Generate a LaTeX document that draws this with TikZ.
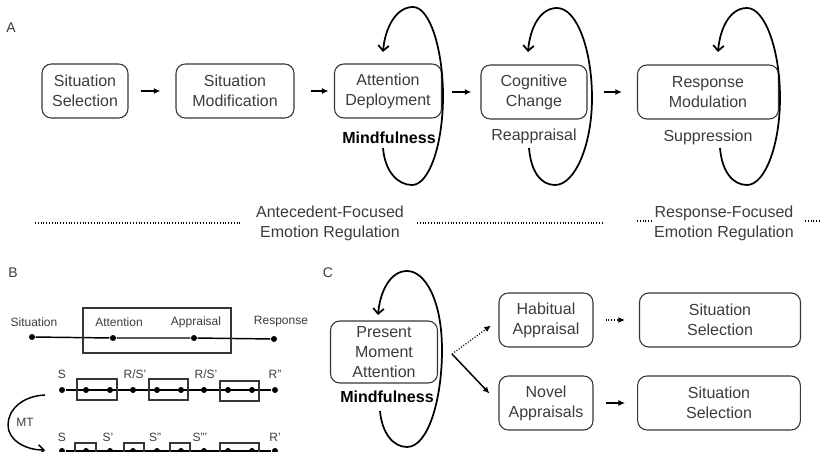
\documentclass[tikz,border=0pt]{standalone}
\usepackage{fontspec}
\setmainfont{Liberation Sans}
\usetikzlibrary{arrows.meta}
\definecolor{ink}{HTML}{3C3C3C}
\definecolor{edge}{HTML}{363636}
\tikzset{px/.style={x=.75pt,y=-.75pt,line width=.8pt,font=\fontsize{12}{15}\selectfont,text=ink},
  stage/.style={draw=edge,line width=.8pt,rounded corners=7pt,align=center,minimum height=40.5pt,inner sep=0pt},
  flow/.style={-{Latex[length=5pt,width=4.5pt]},line width=1.1pt},
  reloop/.style={-{Straight Barb[length=4pt,width=8pt]},line width=1.3pt},
  strong/.style={font=\fontsize{12}{15}\selectfont\bfseries,text=black},
  small/.style={font=\fontsize{9}{11}\selectfont},
  tag/.style={font=\fontsize{10.5}{12}\selectfont},
  dot/.style={circle,fill=black,inner sep=0pt,minimum size=4.5pt},
  bline/.style={line width=1.1pt},bbox/.style={draw=edge,line width=.8pt},
  dotline/.style={line width=.9pt,dash pattern=on .8pt off 1.3pt}}
\begin{document}
\begin{tikzpicture}[px]
  \useasboundingbox (0,0) rectangle (821,452);
  \node[tag] at (11,28) {A};
  \node[stage,minimum width=64.5pt] (sel) at (85,91) {Situation\\Selection};
  \node[stage,minimum width=88.5pt] (mod) at (235,91) {Situation\\Modification};
  \node[stage,minimum width=80.25pt] (dep) at (388,91) {Attention\\Deployment};
  \node[stage,minimum width=79.5pt] (cog) at (534,92) {Cognitive\\Change};
  \node[stage,minimum width=105.75pt] (rmod) at (708,92) {Response\\Modulation};
  \node[strong] (mind) at (389,138) {Mindfulness};
  \node (reap) at (534,136) {Reappraisal};\node (supp) at (708,137) {Suppression};
  \draw[flow,shorten <=9pt,shorten >=11.25pt] (sel) -- (mod);
  \draw[flow,shorten <=12pt,shorten >=4pt] (mod) -- (dep);
  \draw[flow,shorten <=7.5pt,shorten >=6.75pt] (dep.east|-cog) -- (cog);
  \draw[flow,shorten <=12pt,shorten >=11.25pt] (cog) -- (rmod);
  \draw[reloop] (383,148) .. controls (385,172) and (398,185) .. (412,185) .. controls (429,185) and (443,145) .. (443,96)
    .. controls (443,50) and (430,7) .. (413,7) .. controls (396,7) and (385,28) .. (383,52);
  \draw[reloop] (529,148) .. controls (531,172) and (541,185) .. (555,185) .. controls (575,185) and (592,145) .. (592,98)
    .. controls (592,50) and (577,8) .. (557,8) .. controls (540,8) and (530,28) .. (528,52);
  \draw[reloop] (720,148) .. controls (722,172) and (733,185) .. (747,185) .. controls (765,185) and (780,145) .. (780,98)
    .. controls (780,50) and (765,8) .. (747,8) .. controls (730,8) and (720,28) .. (718,52);
  \node[align=center] (ante) at (330,223) {Antecedent-Focused\\Emotion Regulation};
  \node[align=center] (resp) at (724,223) {Response-Focused\\Emotion Regulation};
  \draw[dotline] (35,223) -- (240,223);\draw[dotline] (417,223) -- (602,223);
  \draw[dotline] (637,221) -- (653,221);\draw[dotline] (805,221) -- (820,221);
  \node[tag] at (13,273) {B};
  \node[dot] (bs) at (32,337) {};\node[dot] (bat) at (113,338) {};\node[dot] (bap) at (194,338) {};\node[dot] (br) at (274,339) {};
  \draw[bline] (bs) -- (bat) -- (bap) -- (br);\draw[bbox] (83,308) rectangle (231,353);
  \node[small] at (34,322) {Situation};\node[small] at (119,322) {Attention};
  \node[small] at (196,322) {Appraisal};\node[small] at (281,322) {Response};
  \node[dot] (u1) at (62,390) {};\node[dot] (u2) at (86,390) {};\node[dot] (u3) at (110,390) {};\node[dot] (u4) at (133,390) {};
  \node[dot] (u5) at (157,390) {};\node[dot] (u6) at (181,390) {};\node[dot] (u7) at (204,390) {};\node[dot] (u8) at (228,390) {};
  \node[dot] (u9) at (252,390) {};\node[dot] (u10) at (275,390) {};
  \draw[bline] (u1) -- (u10);
  \draw[bbox] (77,379) rectangle (117,400);\draw[bbox] (149,379) rectangle (188,400);\draw[bbox] (220,381) rectangle (259,401);
  \node[small] at (62,374) {S};\node[small] at (135,374) {R/S'};\node[small] at (206,374) {R/S'};\node[small] at (275,374) {R''};
  \node[dot] (l1) at (62,451) {};\node[dot] (l2) at (86,451) {};\node[dot] (l3) at (110,451) {};\node[dot] (l4) at (133,451) {};
  \node[dot] (l5) at (157,451) {};\node[dot] (l6) at (181,451) {};\node[dot] (l7) at (204,451) {};\node[dot] (l8) at (228,451) {};
  \node[dot] (l9) at (252,451) {};\node[dot] (l10) at (275,451) {};
  \draw[bline] (l1) -- (l10);
  \draw[bbox] (75,443) rectangle (96,462);\draw[bbox] (124,443) rectangle (144,462);
  \draw[bbox] (170,443) rectangle (190,462);\draw[bbox] (220,443) rectangle (259,462);
  \node[small] at (62,437) {S};\node[small] at (108,437) {S'};\node[small] at (155,437) {S''};
  \node[small] at (200,437) {S'''};\node[small] at (275,437) {R'};
  \node[small] (mt) at (25,422) {MT};
  \draw[reloop,line width=1.1pt] (45,395) .. controls (22,396) and (8,410) .. (8,425) .. controls (8,440) and (25,450) .. (45,450);
  \node[tag] at (328,273) {C};
  \node[stage,minimum width=80.25pt,minimum height=46.5pt] (pma) at (384,352) {Present\\Moment\\Attention};
  \node[strong] (mind2) at (387,397) {Mindfulness};
  \node[stage,minimum width=70.5pt] (hab) at (546,320) {Habitual\\Appraisal};
  \node[stage,minimum width=120.75pt] (ssa) at (720,320) {Situation\\Selection};
  \node[stage,minimum width=70.5pt] (nov) at (546,403) {Novel\\Appraisals};
  \node[stage,minimum width=122pt] (ssb) at (719,403) {Situation\\Selection};
  \coordinate (fork) at (452,354);
  \draw[flow,dotline,shorten >=7pt] (fork) -- (hab.west);
  \draw[flow,shorten >=9.75pt] (fork) -- (nov.west);
  \draw[flow,dotline,shorten <=9pt,shorten >=10.5pt] (hab) -- (ssa);
  \draw[flow,shorten <=9pt,shorten >=9pt] (nov) -- (ssb);
  \draw[reloop] (380,411) .. controls (382,433) and (393,447) .. (407,447) .. controls (428,447) and (442,400) .. (442,350)
    .. controls (442,300) and (425,271) .. (407,271) .. controls (390,271) and (380,292) .. (378,315);
\end{tikzpicture}
\end{document}
